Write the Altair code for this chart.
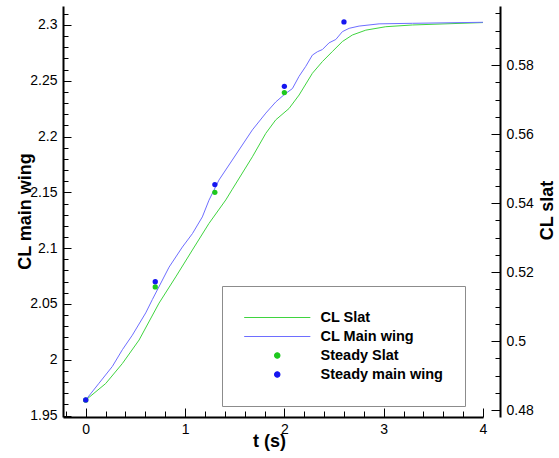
import altair as alt
import pandas as pd

# Unsteady lift histories (time in s)
main_t = [0, 0.134, 0.268, 0.369, 0.469, 0.604, 0.671, 0.839, 0.973, 1.074, 1.174,
          1.241, 1.341, 1.476, 1.678, 1.813, 1.913, 2.004, 2.081, 2.148, 2.216, 2.282,
          2.332, 2.383, 2.450, 2.518, 2.584, 2.652, 2.752, 2.954, 3.289, 4.0]
main_cl = [1.964, 1.979, 1.994, 2.009, 2.022, 2.042, 2.054, 2.083, 2.101, 2.113, 2.128,
           2.143, 2.161, 2.179, 2.206, 2.221, 2.231, 2.238, 2.243, 2.254, 2.263, 2.273,
           2.276, 2.278, 2.284, 2.287, 2.294, 2.297, 2.299, 2.301, 2.3015, 2.3024]

slat_t = [0, 0.201, 0.369, 0.537, 0.738, 0.906, 1.074, 1.241, 1.410, 1.476, 1.678,
          1.813, 1.913, 2.047, 2.148, 2.282, 2.383, 2.483, 2.584, 2.685, 2.820, 3.021,
          3.289, 4.0]
slat_cl = [0.4829, 0.4877, 0.4935, 0.5003, 0.5110, 0.5186, 0.5264, 0.5341, 0.5409,
           0.5440, 0.5534, 0.5602, 0.5641, 0.5674, 0.5713, 0.5776, 0.5810, 0.5839,
           0.5868, 0.5887, 0.5901, 0.5911, 0.5916, 0.5923]

# Steady solutions at fixed deflection states
steady_main_t = [0, 0.7, 1.3, 2.0, 2.6]
steady_main_cl = [1.964, 2.070, 2.157, 2.245, 2.3027]
steady_slat_t = [0, 0.7, 1.3, 2.0]
steady_slat_cl = [0.4829, 0.5157, 0.5431, 0.5720]

series_names = ["CL Slat", "CL Main wing", "Steady Slat", "Steady main wing"]
series_colors = ["#3fd43f", "#6e6eff", "#1ec81e", "#1616f0"]
# long horizontal stroke for the line entries, circles for the steady points
series_shapes = ["M-12.5,0H12.5", "M-12.5,0H12.5", "circle", "circle"]

# axis ticks
t_major = [0, 1, 2, 3, 4]
t_minor = [round(k * 0.2, 1) for k in range(-1, 20) if k % 5 != 0]
main_major = [1.95, 2.0, 2.05, 2.1, 2.15, 2.2, 2.25, 2.3]
main_minor = [round(1.95 + 0.01 * k, 2) for k in range(1, 37) if k % 5 != 0]
slat_major = [0.48, 0.5, 0.52, 0.54, 0.56, 0.58]
slat_minor = [round(0.48 + 0.005 * k, 3) for k in range(1, 24) if k % 4 != 0]

T_DOMAIN = [-0.229, 4.0]
MAIN_DOMAIN = [1.9487, 2.317]
SLAT_DOMAIN = [0.478, 0.5971]

FONT = "Liberation Sans"

main_df = pd.DataFrame({"t": main_t, "cl": main_cl, "series": "CL Main wing"})
slat_df = pd.DataFrame({"t": slat_t, "cl": slat_cl, "series": "CL Slat"})
steady_main_df = pd.DataFrame({"t": steady_main_t, "cl": steady_main_cl,
                               "series": "Steady main wing"})
steady_slat_df = pd.DataFrame({"t": steady_slat_t, "cl": steady_slat_cl,
                               "series": "Steady Slat"})


def x_enc(axis):
    return alt.X("t:Q", scale=alt.Scale(domain=T_DOMAIN, nice=False, zero=False),
                 axis=axis)


def y_enc(domain, axis):
    return alt.Y("cl:Q", scale=alt.Scale(domain=domain, nice=False, zero=False),
                 axis=axis)


def tick_axis(orient, values, offset, size):
    # tick-only axis shifted inward, so that its ticks point into the plot
    return alt.Axis(orient=orient, values=values, offset=offset, tickSize=size,
                    tickColor="black", labels=False, domain=False, grid=False,
                    title=None)


label_style = dict(labelFont=FONT, labelFontSize=14, labelColor="black",
                   labelFlush=False, labelOverlap=False, grid=False,
                   titleFont=FONT, titleFontSize=18, titleFontWeight="bold",
                   titleColor="black", domainColor="black", domainWidth=2,
                   ticks=False, tickSize=0)

x_main_axis = alt.Axis(orient="bottom", values=t_major, format="d", title="t (s)",
                       labelPadding=5, titleX=206, titleY=29,
                       titleBaseline="alphabetic", titleAlign="center", **label_style)
left_main_axis = alt.Axis(orient="left", values=main_major, format="~g",
                          title="CL main wing", labelPadding=6, titleAngle=-90,
                          titleX=-33, titleY=205, titleBaseline="alphabetic",
                          titleAlign="center", **label_style)
right_main_axis = alt.Axis(orient="right", values=slat_major, format="~g",
                           title="CL slat", offset=17, labelPadding=6, titleAngle=-90,
                           titleX=52, titleY=204, titleBaseline="alphabetic",
                           titleAlign="center", **label_style)

legend = alt.Legend(
    orient="none", legendX=159, legendY=280, title=None, direction="vertical",
    columns=1, symbolSize=28, symbolStrokeWidth=1.2, symbolOffset=26,
    clipHeight=19, rowPadding=0, padding=22, labelOffset=36,
    labelFont=FONT, labelFontSize=14.5, labelFontWeight="bold", labelColor="black",
    strokeColor="#8c8c8c", fillColor="white",
)

color = alt.Color("series:N",
                  scale=alt.Scale(domain=series_names, range=series_colors),
                  legend=legend)
shape = alt.Shape("series:N",
                  scale=alt.Scale(domain=series_names, range=series_shapes),
                  legend=legend)

# unseen copies of the curves that only carry the extra tick axes
ticks_a = alt.Chart(main_df).mark_line(opacity=0).encode(
    x=x_enc(tick_axis("bottom", t_minor, -6, 6)),
    y=y_enc(MAIN_DOMAIN, tick_axis("left", main_minor, -5, 5)),
)
ticks_b = alt.Chart(slat_df).mark_line(opacity=0).encode(
    x=x_enc(tick_axis("bottom", t_major, -9, 9)),
    y=y_enc(SLAT_DOMAIN, tick_axis("right", slat_minor, 12, 5)),
)

slat_line = alt.Chart(slat_df).mark_line(strokeWidth=1).encode(
    x=x_enc(x_main_axis),
    y=y_enc(SLAT_DOMAIN, right_main_axis),
    color=color,
)
main_line = alt.Chart(main_df).mark_line(strokeWidth=1).encode(
    x=x_enc(None),
    y=y_enc(MAIN_DOMAIN, left_main_axis),
    color=color,
)
slat_pts = alt.Chart(steady_slat_df).mark_point(filled=True, size=28, opacity=1).encode(
    x=x_enc(None),
    y=y_enc(SLAT_DOMAIN, tick_axis("right", slat_major, 8, 9)),
    color=color,
    shape=shape,
)
main_pts = alt.Chart(steady_main_df).mark_point(filled=True, size=28, opacity=1).encode(
    x=x_enc(None),
    y=y_enc(MAIN_DOMAIN, tick_axis("left", main_major, -8, 8)),
    color=color,
    shape=shape,
)

chart = (
    alt.layer(ticks_a, ticks_b, slat_line, main_line, slat_pts, main_pts)
    .resolve_scale(x="independent", y="independent")
    .properties(
        width=420, height=411,
        padding={"left": 16, "top": 6, "right": 2, "bottom": 8},
        background="white",
    )
    .configure_view(stroke=None)
)

chart.save("out.html", embed_options={"renderer": "svg", "actions": False})
